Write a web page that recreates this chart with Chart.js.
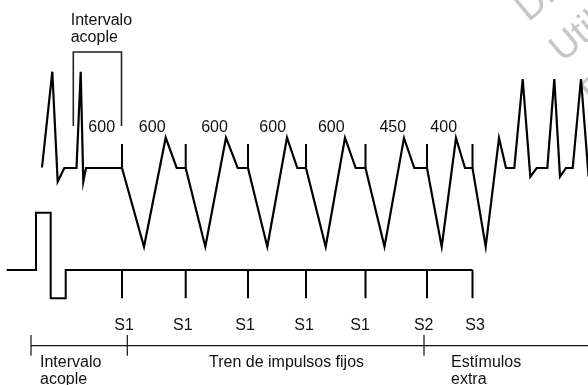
<!DOCTYPE html>
<html>
<head>
<meta charset="utf-8">
<script src="https://cdn.jsdelivr.net/npm/chart.js@4/dist/chart.umd.min.js"></script>
<style>
  html, body { margin: 0; padding: 0; background: #fff; }
  #wrap { width: 588px; height: 385px; }
</style>
</head>
<body>
<div id="wrap"><canvas id="chart" width="588" height="385"></canvas></div>
<script>
// diagram units: x runs left->right along time, y runs top->down (0 = top)

// stimulus events (S1 x5, S2, S3)
const stimX      = [122, 185.7, 248, 306, 365.5, 427, 472.5];
const stimNames  = ['S1', 'S1', 'S1', 'S1', 'S1', 'S2', 'S3'];
const stimNameX  = [124, 182.8, 245, 304, 360, 423.7, 475];

// cycle lengths written above the trace
const cycleMs    = ['600', '600', '600', '600', '600', '450', '400'];
const cycleMsX   = [101.7, 152.2, 214.5, 272.7, 331.3, 392.8, 443.7];

// ECG trace (vertices)
const ecgX = [42, 52.3, 57.7, 64.3, 76.5, 80.7, 83.3, 86, 122,
              144, 165.7, 176.7, 185.7,
              205.3, 226, 237.7, 248,
              267.3, 287, 297.3, 306,
              325.7, 345, 355.7, 365.5,
              384.5, 404, 414.3, 427,
              441.7, 456, 465, 472.5,
              485.7, 499, 506, 514.3,
              522.7, 530.3, 536.7, 547.3,
              554.3, 560, 566, 572.7,
              581, 588.6];
const ecgY = [167.5, 71.7, 181.7, 168, 168, 71.7, 181.7, 168, 168,
              246.7, 137.7, 168, 168,
              246.7, 137.7, 168, 168,
              246.7, 137.7, 168, 168,
              246.7, 137.7, 168, 168,
              246.7, 138, 168, 168,
              246.7, 138, 168, 168,
              246.7, 138, 168, 168,
              79, 176.7, 168, 168,
              79, 176.7, 168, 168,
              79, 176.7];

// stimulator channel (square pulse + baseline)
const stimTraceX = [6.7, 36, 36, 50.7, 50.7, 65.7, 65.7, 472.5];
const stimTraceY = [270, 270, 212.7, 212.7, 298.3, 298.3, 270, 270];

// coupling interval bracket
const bracketX = [73.3, 73.3, 121.5, 121.5];
const bracketY = [126, 52, 52, 126];

// phases on the time line
const phaseX      = [31, 127.3, 424];
const phaseLabels = [['Intervalo', 'acople'], ['Tren de impulsos fijos'], ['Estímulos', 'extra']];
const phaseLabelX = [40, 209, 451];

const ECG_BASE = 168, ECG_TICK_TOP = 144;
const STIM_BASE = 270, STIM_TICK_BOT = 298.3;
const LINE_Y = 345.7;

const zip = (xs, ys) => xs.map((x, i) => ({ x, y: ys[i] }));

function ticks(xs, y0, y1) {
  const pts = [];
  for (const x of xs) {
    pts.push({ x, y: y0 }, { x, y: y1 }, { x, y: null });
  }
  return pts;
}

const FONT = '16px "Liberation Sans", Arial, sans-serif';

const textPlugin = {
  id: 'diagramText',
  beforeDatasetsDraw(chart) {
    // faint watermark in the corner
    const { ctx, scales: { x, y } } = chart;
    ctx.save();
    ctx.translate(x.getPixelForValue(528.5), y.getPixelForValue(22.5));
    ctx.rotate(-40 * Math.PI / 180);
    ctx.fillStyle = '#c6c6c6';
    ctx.font = '38px "Liberation Sans", Arial, sans-serif';
    ctx.textBaseline = 'alphabetic';
    ctx.textAlign = 'left';
    ctx.fillText('Distribución gratuita', 0, 0);
    ctx.fillText('Utilización restringida', 0, 53);
    ctx.fillText('Prohibida su venta', -4, 106);
    ctx.restore();
  },
  afterDatasetsDraw(chart) {
    const { ctx, scales: { x, y } } = chart;
    ctx.save();
    ctx.font = FONT;
    ctx.fillStyle = '#111';
    ctx.textBaseline = 'alphabetic';

    // cycle lengths
    ctx.textAlign = 'center';
    cycleMs.forEach((t, i) => ctx.fillText(t, x.getPixelForValue(cycleMsX[i]), y.getPixelForValue(131.7)));
    // stimulus names
    stimNames.forEach((t, i) => ctx.fillText(t, x.getPixelForValue(stimNameX[i]), y.getPixelForValue(330)));

    // bracket label
    ctx.textAlign = 'left';
    ctx.fillText('Intervalo', x.getPixelForValue(70.7), y.getPixelForValue(25));
    ctx.fillText('acople', x.getPixelForValue(70.7), y.getPixelForValue(42));

    // phase labels
    phaseLabels.forEach((lines, i) => {
      lines.forEach((t, j) => {
        ctx.fillText(t, x.getPixelForValue(phaseLabelX[i]), y.getPixelForValue(366.7 + j * 17));
      });
    });
    ctx.restore();
  }
};

const line = (data, width, color) => ({
  data,
  showLine: true,
  borderColor: color,
  borderWidth: width,
  pointRadius: 0,
  tension: 0,
  spanGaps: false,
  borderJoinStyle: 'miter',
  borderCapStyle: 'butt',
  clip: false
});

new Chart(document.getElementById('chart'), {
  type: 'scatter',
  data: {
    datasets: [
      line(zip(ecgX, ecgY), 2.2, '#000'),
      line(ticks(stimX, ECG_BASE, ECG_TICK_TOP), 2, '#000'),
      line(zip(bracketX, bracketY), 1.6, '#222'),
      line(zip(stimTraceX, stimTraceY), 2, '#000'),
      line(ticks(stimX, STIM_BASE, STIM_TICK_BOT), 2, '#000'),
      line([{ x: phaseX[0], y: LINE_Y }, { x: 590, y: LINE_Y }], 1.2, '#111'),
      line(ticks(phaseX, 335, 355.7), 1.2, '#111')
    ]
  },
  options: {
    responsive: false,
    animation: false,
    devicePixelRatio: 1,
    layout: { padding: 0 },
    plugins: { legend: { display: false }, tooltip: { enabled: false } },
    scales: {
      x: { type: 'linear', min: 0, max: 588, display: false },
      y: { type: 'linear', min: 0, max: 385, reverse: true, display: false }
    }
  },
  plugins: [textPlugin]
});
</script>
</body>
</html>
